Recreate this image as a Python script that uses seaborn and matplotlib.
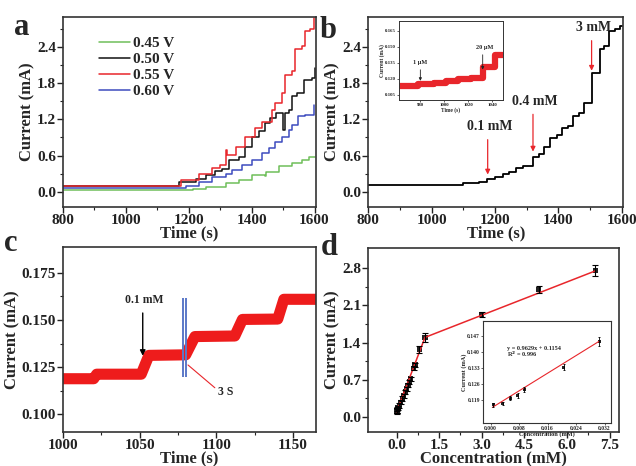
import numpy as np
import pandas as pd
import seaborn as sns
import matplotlib.pyplot as plt

# ---------------- data ----------------
# panel a : amperometric steps at four potentials (time s, current mA)
t_045 = [800, 1212, 1254, 1317, 1359, 1402, 1444, 1446, 1450, 1486, 1528, 1560, 1581, 1600]
i_045 = [0.03, 0.05, 0.08, 0.14, 0.19, 0.28, 0.27, 0.33, 0.33, 0.42, 0.47, 0.53, 0.58, 0.57]
t_050 = [800, 1170, 1222, 1254, 1285, 1307, 1328, 1360, 1380, 1402, 1423, 1444, 1460, 1476,
         1500, 1505, 1518, 1528, 1544, 1565, 1591, 1600]
i_050 = [0.10, 0.17, 0.22, 0.28, 0.34, 0.38, 0.53, 0.58, 0.75, 0.91, 1.00, 1.14, 1.22, 1.30,
         1.02, 1.30, 1.36, 1.58, 1.64, 1.86, 1.88, 2.05]
t_055 = [800, 1175, 1233, 1275, 1300, 1320, 1323, 1349, 1380, 1412, 1433, 1465, 1475, 1497,
         1507, 1528, 1539, 1560, 1570, 1586, 1597]
i_055 = [0.10, 0.19, 0.30, 0.39, 0.44, 0.69, 0.61, 0.75, 0.91, 1.05, 1.16, 1.36, 1.47, 1.64,
         1.94, 2.00, 2.36, 2.41, 2.66, 2.69, 2.88]
t_060 = [800, 1190, 1233, 1275, 1317, 1338, 1370, 1402, 1433, 1454, 1475, 1497, 1518, 1528,
         1549, 1570, 1597]
i_060 = [0.07, 0.10, 0.17, 0.25, 0.30, 0.36, 0.44, 0.53, 0.64, 0.72, 0.83, 0.91, 1.03, 1.11,
         1.25, 1.27, 1.44]
potentials = ["0.45 V", "0.50 V", "0.55 V", "0.60 V"]
pot_colors = ["#6fbf5a", "#111111", "#e8262b", "#3d4bbf"]

# panel b : 0.55 V response with successive additions
t_b = [800, 1050, 1100, 1150, 1175, 1200, 1225, 1245, 1265, 1290, 1320, 1340, 1355, 1375,
       1395, 1410, 1430, 1445, 1465, 1480, 1505, 1530, 1545, 1560, 1580, 1595, 1600]
i_b = [0.11, 0.12, 0.14, 0.17, 0.21, 0.25, 0.29, 0.33, 0.39, 0.43, 0.58, 0.63, 0.75, 0.89,
       0.94, 1.05, 1.09, 1.25, 1.30, 1.47, 1.97, 2.36, 2.41, 2.66, 2.70, 2.74, 2.74]
b_arrow_t = [1177, 1320, 1505]
b_arrow_top = [0.91, 1.33, 2.55]
b_arrow_tip = [0.24, 0.62, 1.96]
b_arrow_txt = ["0.1 mM", "0.4 mM", "3 mM"]

# panel b inset : low concentration steps
t_bi = [962, 978, 991, 1001, 1011, 1022, 1032, 1042, 1049]
i_bi = [0.1135, 0.115, 0.1165, 0.118, 0.1195, 0.121, 0.131, 0.1425, 0.1425]

# panel c : response time (corners of the plateaus)
t_c = [1000, 1020, 1022, 1051, 1056, 1080, 1086, 1112, 1117, 1140, 1144, 1165]
i_c = [0.1188, 0.1188, 0.1212, 0.1212, 0.1312, 0.1315, 0.1412, 0.1415, 0.1503, 0.1505,
       0.1610, 0.1610]
c_marks = [1078, 1080.5]

# panel d : calibration curve
conc = [0.001, 0.005, 0.01, 0.02, 0.03, 0.05, 0.1, 0.15, 0.2, 0.25, 0.3, 0.35, 0.4, 0.45,
        0.5, 0.6, 0.65, 0.8, 1.0, 3.0, 5.0, 7.0]
cur = [0.11, 0.12, 0.125, 0.13, 0.15, 0.17, 0.22, 0.28, 0.35, 0.40, 0.47, 0.53, 0.60, 0.66,
       0.72, 0.92, 0.98, 1.27, 1.50, 1.93, 2.40, 2.75]
cur_err = [0.05, 0.05, 0.05, 0.05, 0.04, 0.04, 0.05, 0.04, 0.04, 0.04, 0.04, 0.04, 0.04, 0.04,
           0.04, 0.04, 0.04, 0.06, 0.08, 0.04, 0.07, 0.10]
low_fit = [1.40, 0.10]     # slope, intercept (0 - 1 mM)
high_fit = [0.2083, 1.29]  # slope, intercept (1 - 7 mM)

# panel d inset
conc_in = [0.0008, 0.0034, 0.0056, 0.0076, 0.0095, 0.0205, 0.0305]
cur_in = [0.1170, 0.1176, 0.1199, 0.1212, 0.1238, 0.1334, 0.1447]
err_in = [0.0010, 0.0008, 0.0010, 0.0010, 0.0010, 0.0014, 0.0018]
in_fit = [0.9629, 0.1154]

# ---------------- style ----------------
sns.set_theme(style="ticks")
plt.rcParams['font.family'] = ['Liberation Serif', 'DejaVu Serif']
plt.rcParams['font.weight'] = 'bold'
plt.rcParams['axes.labelweight'] = 'bold'
plt.rcParams['axes.linewidth'] = 1.2
plt.rcParams['axes.edgecolor'] = '#333333'
plt.rcParams['xtick.color'] = '#222222'
plt.rcParams['ytick.color'] = '#222222'

fig = plt.figure(figsize=(6.36, 4.66), dpi=100)
ax_a = fig.add_axes([0.099, 0.556, 0.398, 0.408])
ax_b = fig.add_axes([0.579, 0.556, 0.401, 0.408])
ax_c = fig.add_axes([0.099, 0.073, 0.398, 0.397])
ax_d = fig.add_axes([0.579, 0.073, 0.395, 0.395])


def style_axis(ax, fs=11):
    ax.tick_params(which='major', direction='out', length=4, width=1, labelsize=fs, pad=1)
    ax.tick_params(which='minor', direction='out', length=2, width=0.8)
    for lab in ax.get_xticklabels() + ax.get_yticklabels():
        lab.set_fontweight('bold')
    for s in ax.spines.values():
        s.set_visible(True)


# ---------------- panel a ----------------
series_a = [(t_045, i_045), (t_050, i_050), (t_055, i_055), (t_060, i_060)]
for (tt, ii), lab, col in zip(series_a, potentials, pot_colors):
    sns.lineplot(x=tt, y=ii, ax=ax_a, color=col, lw=1.1, drawstyle='steps-post', label=lab)
ax_a.set_xlim(800, 1605)
ax_a.set_ylim(-0.25, 2.9)
ax_a.set_xticks([800, 1000, 1200, 1400, 1600])
ax_a.set_xticks(np.arange(900, 1600, 200), minor=True)
ax_a.set_yticks([0.0, 0.6, 1.2, 1.8, 2.4])
ax_a.set_yticks([0.3, 0.9, 1.5, 2.1, 2.7], minor=True)
ax_a.set_xlabel("Time (s)", fontsize=12, labelpad=-1)
ax_a.set_ylabel("Current (mA)", fontsize=12, labelpad=1)
leg = ax_a.legend(loc='upper left', bbox_to_anchor=(0.12, 0.93), frameon=False,
                  fontsize=11, handlelength=2.0, handletextpad=0.2, labelspacing=0.15,
                  borderaxespad=0)
for txt in leg.get_texts():
    txt.set_fontweight('bold')
style_axis(ax_a)

# ---------------- panel b ----------------
sns.lineplot(x=t_b, y=i_b, ax=ax_b, color='black', lw=1.3, drawstyle='steps-post')
for tx, top, tip, lab in zip(b_arrow_t, b_arrow_top, b_arrow_tip, b_arrow_txt):
    ax_b.annotate("", xy=(tx, tip), xytext=(tx, top),
                  arrowprops=dict(arrowstyle='-|>', color='#e8262b', lw=0.9,
                                  mutation_scale=7))
    ax_b.text(tx + 5, top + 0.06, lab, ha='center', va='bottom', fontsize=10,
              fontweight='bold')
ax_b.set_xlim(800, 1605)
ax_b.set_ylim(-0.25, 2.9)
ax_b.set_xticks([800, 1000, 1200, 1400, 1600])
ax_b.set_xticks(np.arange(900, 1600, 200), minor=True)
ax_b.set_yticks([0.0, 0.6, 1.2, 1.8, 2.4])
ax_b.set_yticks([0.3, 0.9, 1.5, 2.1, 2.7], minor=True)
ax_b.set_xlabel("Time (s)", fontsize=12, labelpad=-1)
ax_b.set_ylabel("Current (mA)", fontsize=12, labelpad=1)
style_axis(ax_b)

# inset of b
ax_bi = fig.add_axes([0.627, 0.785, 0.164, 0.170])
sns.lineplot(x=t_bi, y=i_bi, ax=ax_bi, color='#e8262b', lw=4.5, drawstyle='steps-post',
             solid_capstyle='butt')
ax_bi.annotate("", xy=(980, 0.1155), xytext=(980, 0.131),
               arrowprops=dict(arrowstyle='-|>', color='#222222', lw=0.6, mutation_scale=4))
ax_bi.text(980, 0.1325, "1 μM", ha='center', va='bottom', fontsize=4.5)
ax_bi.annotate("", xy=(1032, 0.126), xytext=(1032, 0.145),
               arrowprops=dict(arrowstyle='-|>', color='#222222', lw=0.6, mutation_scale=4))
ax_bi.text(1034, 0.1465, "20 μM", ha='center', va='bottom', fontsize=4.5)
ax_bi.set_xlim(962, 1049)
ax_bi.set_ylim(0.100, 0.174)
ax_bi.set_xticks([980, 1000, 1020, 1040])
ax_bi.set_yticks([0.105, 0.120, 0.135, 0.150, 0.165])
ax_bi.set_yticklabels(["0.105", "0.120", "0.135", "0.150", "0.165"])
ax_bi.set_xlabel("Time (s)", fontsize=4, labelpad=0)
ax_bi.set_ylabel("Current (mA)", fontsize=4, labelpad=0)
ax_bi.tick_params(labelsize=3.5, length=1.5, width=0.5, pad=0.5)
for s in ax_bi.spines.values():
    s.set_linewidth(0.7)

# ---------------- panel c ----------------
sns.lineplot(x=t_c, y=i_c, ax=ax_c, color='#ee1c1c', lw=8, solid_capstyle='butt')
ax_c.vlines(c_marks, 0.1195, 0.1615, colors='#5b78c8', lw=1.4)
ax_c.annotate("", xy=(1052, 0.1295), xytext=(1052, 0.1552),
              arrowprops=dict(arrowstyle='-|>', color='black', lw=1, mutation_scale=8))
ax_c.text(1053, 0.1575, "0.1 mM", ha='center', va='bottom', fontsize=8.5, fontweight='bold')
ax_c.plot([1081.5, 1099], [0.1261, 0.1140], color='#e8262b', lw=0.8)
ax_c.text(1101, 0.1115, "3 S", ha='left', va='center', fontsize=8.5, fontweight='bold')
ax_c.set_xlim(1000, 1165)
ax_c.set_ylim(0.0905, 0.1888)
ax_c.set_xticks([1000, 1050, 1100, 1150])
ax_c.set_xticks([1025, 1075, 1125], minor=True)
ax_c.set_yticks([0.100, 0.125, 0.150, 0.175])
ax_c.set_yticks([0.1125, 0.1375, 0.1625], minor=True)
ax_c.set_xlabel("Time (s)", fontsize=12, labelpad=-1)
ax_c.set_ylabel("Current (mA)", fontsize=12, labelpad=1)
style_axis(ax_c)

# ---------------- panel d ----------------
x_low = np.array([0.0, 1.0])
x_high = np.array([1.0, 7.0])
sns.lineplot(x=x_low, y=low_fit[0] * x_low + low_fit[1], ax=ax_d, color='#e8262b', lw=1.1)
sns.lineplot(x=x_high, y=high_fit[0] * x_high + high_fit[1], ax=ax_d, color='#e8262b', lw=1.1)
ax_d.errorbar(conc, cur, yerr=cur_err, fmt='none', ecolor='black', elinewidth=0.8,
              capsize=2, capthick=0.8)
sns.scatterplot(x=conc, y=cur, ax=ax_d, marker='s', color='#222222', s=14, edgecolor='none')
ax_d.set_xlim(-1.0, 7.85)
ax_d.set_ylim(-0.28, 3.18)
ax_d.set_xticks([0.0, 1.5, 3.0, 4.5, 6.0, 7.5])
ax_d.set_xticks([0.75, 2.25, 3.75, 5.25, 6.75], minor=True)
ax_d.set_yticks([0.0, 0.7, 1.4, 2.1, 2.8])
ax_d.set_yticks([0.35, 1.05, 1.75, 2.45], minor=True)
ax_d.set_xlabel("Concentration (mM)", fontsize=12, labelpad=-1)
ax_d.set_ylabel("Current (mA)", fontsize=12, labelpad=1)
style_axis(ax_d)

# inset of d
ax_di = fig.add_axes([0.759, 0.092, 0.201, 0.219])
x_in = np.array([0.0005, 0.0305])
sns.lineplot(x=x_in, y=in_fit[0] * x_in + in_fit[1], ax=ax_di, color='#e8262b', lw=0.8)
ax_di.errorbar(conc_in, cur_in, yerr=err_in, fmt='none', ecolor='black', elinewidth=0.6,
               capsize=1, capthick=0.6)
sns.scatterplot(x=conc_in, y=cur_in, ax=ax_di, marker='s', color='#222222', s=5,
                edgecolor='none')
ax_di.text(0.0045, 0.1418, "y = 0.9629x + 0.1154", fontsize=4.5, va='center')
ax_di.text(0.0045, 0.1392, "R$^2$ = 0.996", fontsize=4.5, va='center')
ax_di.set_xlim(-0.0022, 0.0337)
ax_di.set_ylim(0.109, 0.1536)
ax_di.set_xticks([0.000, 0.008, 0.016, 0.024, 0.032])
ax_di.set_xticklabels(["0.000", "0.008", "0.016", "0.024", "0.032"])
ax_di.set_yticks([0.119, 0.126, 0.133, 0.140, 0.147])
ax_di.set_yticklabels(["0.119", "0.126", "0.133", "0.140", "0.147"])
ax_di.set_xlabel("Concentration (mM)", fontsize=4.5, labelpad=0)
ax_di.set_ylabel("Current (mA)", fontsize=4.5, labelpad=0)
ax_di.tick_params(labelsize=4, length=1.5, width=0.5, pad=0.5)
for s in ax_di.spines.values():
    s.set_linewidth(0.8)

# panel letters
for x, y, s in [(0.022, 0.925, 'a'), (0.502, 0.918, 'b'), (0.006, 0.462, 'c'), (0.505, 0.452, 'd')]:
    fig.text(x, y, s, fontsize=22, fontweight='bold', va='baseline')

fig.savefig("out.png", dpi=100)
